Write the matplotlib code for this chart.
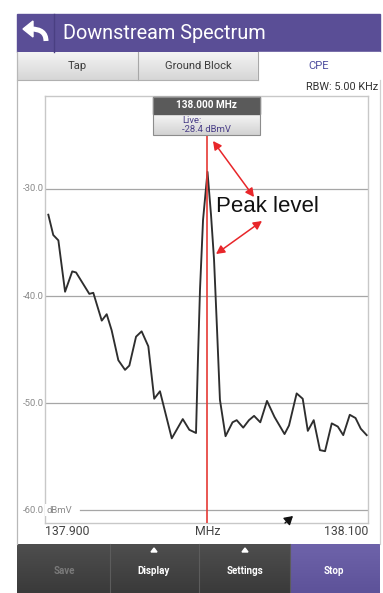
import matplotlib
matplotlib.use('Agg')
import matplotlib.pyplot as plt
import numpy as np
from matplotlib.patches import Rectangle, Polygon, FancyArrowPatch, PathPatch
from matplotlib.path import Path
import matplotlib.transforms as mtransforms

# ---------------- data ----------------
freq_mhz = [137.9002, 137.9033, 137.9065, 137.9107, 137.9152, 137.9176, 137.9259, 137.9284,
            137.9337, 137.9368, 137.9399, 137.9441, 137.9483, 137.9510, 137.9552, 137.9587,
            137.9629, 137.9666, 137.9702, 137.9776, 137.9845, 137.9886, 137.9928, 137.9940,
            137.9953, 137.9972, 138.0000, 138.0022, 138.0041, 138.0060, 138.0078, 138.0113,
            138.0157, 138.0183, 138.0224, 138.0260, 138.0292, 138.0331, 138.0373, 138.0420,
            138.0483, 138.0511, 138.0559, 138.0597, 138.0629, 138.0666, 138.0705, 138.0737,
            138.0779, 138.0817, 138.0851, 138.0892, 138.0928, 138.0961, 138.0998]
level_dbmv = [-32.4, -34.3, -34.8, -39.6, -37.7, -37.8, -39.8, -39.7,
              -42.3, -41.7, -43.2, -46.0, -46.9, -46.5, -43.8, -43.3,
              -44.7, -49.6, -48.9, -53.3, -51.5, -52.5, -52.8, -46.0,
              -39.4, -32.9, -28.4, -32.4, -36.6, -43.2, -49.7, -53.1,
              -51.8, -51.6, -52.3, -51.6, -51.2, -51.8, -49.8, -51.3,
              -52.9, -52.1, -49.1, -49.6, -52.6, -51.6, -54.4, -54.5,
              -51.9, -52.2, -53.0, -51.1, -51.4, -52.4, -53.0]
y_ticks = [-30, -40, -50, -60]
y_tick_labels = ['-30.0', '-40.0', '-50.0', '-60.0']
y_unit = 'dBmV'
x_labels = ['137.900', 'MHz', '138.100']
tabs = ['Tap', 'Ground Block', 'CPE']
buttons = ['Save', 'Display', 'Settings', 'Stop']
title = 'Downstream Spectrum'
rbw_text = 'RBW: 5.00 KHz'
marker_freq = 138.000
marker_level = -28.4
annotation_text = 'Peak level'

W, H = 383, 593
UI = 'Roboto'
fig = plt.figure(figsize=(W / 100, H / 100), dpi=100)
fig.patch.set_facecolor('white')

# ---------------- background UI (pixel coords) ----------------
bg = fig.add_axes([0, 0, 1, 1])
bg.axis('off')


def grad(ax, x0, x1, y0, y1, c_top, c_bot, z=1):
    c_top = np.array(matplotlib.colors.to_rgb(c_top))
    c_bot = np.array(matplotlib.colors.to_rgb(c_bot))
    t = np.linspace(0, 1, 64)[:, None]
    img = (c_top * (1 - t) + c_bot * t)[:, None, :]
    ax.imshow(img, extent=(x0, x1, y1, y0), aspect='auto', zorder=z, interpolation='bilinear')


# title bar
bg.add_patch(Rectangle((17, 14), 363, 38, color='#5a4e96', zorder=2))
bg.plot([54, 54], [14, 52], color='#4a3f82', lw=1, zorder=3)
bg.add_patch(Polygon([(23, 29), (33, 21), (33, 37)], closed=True, color='white', zorder=4))
p = Path([(31, 29), (46, 29), (46, 41)], [Path.MOVETO, Path.CURVE3, Path.CURVE3])
bg.add_patch(PathPatch(p, fill=False, ec='white', lw=3.6, capstyle='butt', zorder=4))
bg.text(63, 33.5, title, color='white', fontsize=14.3, family=UI, va='center', ha='left', zorder=5)

# tabs
grad(bg, 17, 138, 52, 80, '#f4f4f4', '#d6d6d6', z=2)
grad(bg, 138, 258, 52, 80, '#f4f4f4', '#d6d6d6', z=2)
bg.add_patch(Rectangle((258, 52), 122, 28, color='white', zorder=2))
for xx in [138, 258]:
    bg.plot([xx, xx], [52, 80], color='#a8a8a8', lw=0.8, zorder=3)
bg.plot([17, 258], [80, 80], color='#b0b0b0', lw=0.8, zorder=3)
tab_x = [77, 198, 319]
for i, t in enumerate(tabs):
    bg.text(tab_x[i], 66, t, color='#5050a0' if i == 2 else '#3c3c3c', fontsize=8.1,
            family=UI, ha='center', va='center', zorder=5)
bg.text(378, 87, rbw_text, color='#333333', fontsize=7.8, family=UI, ha='right', va='center', zorder=5)

# screen edges
bg.plot([17, 17], [52, 544], color='#b8b8b8', lw=0.9, zorder=3)
bg.plot([380, 380], [80, 544], color='#d0d0d0', lw=0.9, zorder=3)

# bottom button bar
grad(bg, 17, 380, 544, 593, '#4e4e4e', '#3a3a3a', z=2)
grad(bg, 290, 380, 544, 593, '#6e63aa', '#5d5299', z=2)
for xx in [110, 199, 290]:
    bg.plot([xx, xx], [544, 593], color='#5c5c5c', lw=0.8, zorder=3)
btn_x = [64, 154, 245, 334]
for i, b in enumerate(buttons):
    bg.text(btn_x[i], 571, b, color='#7a7a7a' if i == 0 else 'white', fontsize=7,
            weight='bold', family=UI, ha='center', va='center', zorder=5)
for xx in [btn_x[1], btn_x[2]]:
    bg.add_patch(Polygon([(xx - 3, 552), (xx + 3, 552), (xx, 548)], closed=True,
                         color='white', zorder=5))
bg.set_xlim(0, W)
bg.set_ylim(H, 0)

# ---------------- spectrum chart ----------------
L, R, T, B = 45, 368, 96, 523
ax = fig.add_axes([L / W, 1 - B / H, (R - L) / W, (B - T) / H])
ax.set_facecolor('white')
ax.set_xlim(137.89812, 138.10063)
ax.set_ylim(-61.21, -21.31)
ax.set_xticks([])
ax.set_yticks([])
for s in ax.spines.values():
    s.set_color('#c8c8c8')
    s.set_linewidth(1.0)

for v in y_ticks[:-1]:
    ax.axhline(v, color='#a6a6a6', lw=0.9, zorder=1)
ax.axhline(y_ticks[-1], xmin=(80 - L) / (R - L), color='#a6a6a6', lw=0.9, zorder=1)

ytr = mtransforms.blended_transform_factory(ax.transAxes, ax.transData)
for v, lab in zip(y_ticks, y_tick_labels):
    ax.text(-0.004, v, lab, transform=ytr, ha='right', va='center', fontsize=6.8,
            color='#8a8a8a', family=UI, clip_on=False)
ax.text(0.004, y_ticks[-1], y_unit, transform=ytr, ha='left', va='center', fontsize=6.8,
        color='#8a8a8a', family=UI, clip_on=False,
        bbox=dict(boxstyle='square,pad=0.12', fc='white', ec='none'))

ax.plot(freq_mhz, level_dbmv, color='#2e2e2e', lw=1.35, zorder=3)

# marker line
box_bottom = 0.909
ax.axvline(marker_freq, ymax=box_bottom, color='#e53935', lw=1.2, zorder=4)

# x labels
xtr = mtransforms.blended_transform_factory(ax.transData, ax.transAxes)
ax.text(0.0, -0.021, x_labels[0], transform=ax.transAxes, ha='left', va='center',
        fontsize=8.8, color='#444444', family=UI, clip_on=False)
ax.text(marker_freq, -0.021, x_labels[1], transform=xtr, ha='center', va='center',
        fontsize=8.8, color='#444444', family=UI, clip_on=False)
ax.text(1.0, -0.021, x_labels[2], transform=ax.transAxes, ha='right', va='center',
        fontsize=8.8, color='#444444', family=UI, clip_on=False)

# ---------------- overlay (marker box, annotations) ----------------
ov = fig.add_axes([0, 0, 1, 1])
ov.patch.set_alpha(0)
ov.axis('off')
bx0, bx1 = 153, 260
grad(ov, bx0, bx1, 114, 135, '#f6f6f6', '#d2d2d2', z=2)
ov.add_patch(Rectangle((bx0, 97), bx1 - bx0, 17, color='#5a5a5a', zorder=3))
ov.add_patch(Rectangle((bx0, 97), bx1 - bx0, 38, fill=False, ec='#8c8c8c', lw=0.8, zorder=4))
ov.text((bx0 + bx1) / 2, 105.5, f'{marker_freq:.3f} MHz', color='white', fontsize=7.2,
        weight='bold', family=UI, ha='center', va='center', zorder=5)
ov.text(182, 120.5, 'Live:', color='#4a3f88', fontsize=6.8, family=UI, ha='left', va='center', zorder=5)
ov.text(182, 129, f'{marker_level:.1f} dBmV', color='#4a3f88', fontsize=6.8, family=UI,
        ha='left', va='center', zorder=5)

for (x0, y0, x1, y1) in [(213, 141, 254, 197), (216, 254, 262, 221)]:
    ov.add_patch(FancyArrowPatch((x0, y0), (x1, y1), arrowstyle='<|-|>,head_length=5,head_width=2.6',
                                 color='#e8262a', lw=1.1, zorder=6, shrinkA=0, shrinkB=0,
                                 mutation_scale=1))
ov.text(216, 206, annotation_text, color='#111111', fontsize=16, family='Liberation Sans',
        ha='left', va='center', zorder=6)
# small cursor arrow near bottom
ov.annotate('', xy=(293, 516), xytext=(285, 523),
            arrowprops=dict(arrowstyle='-|>,head_length=0.5,head_width=0.3', color='#111111', lw=1.0,
                            shrinkA=0, shrinkB=0), zorder=6)
ov.set_xlim(0, W)
ov.set_ylim(H, 0)

fig.savefig('out.png', dpi=100)
